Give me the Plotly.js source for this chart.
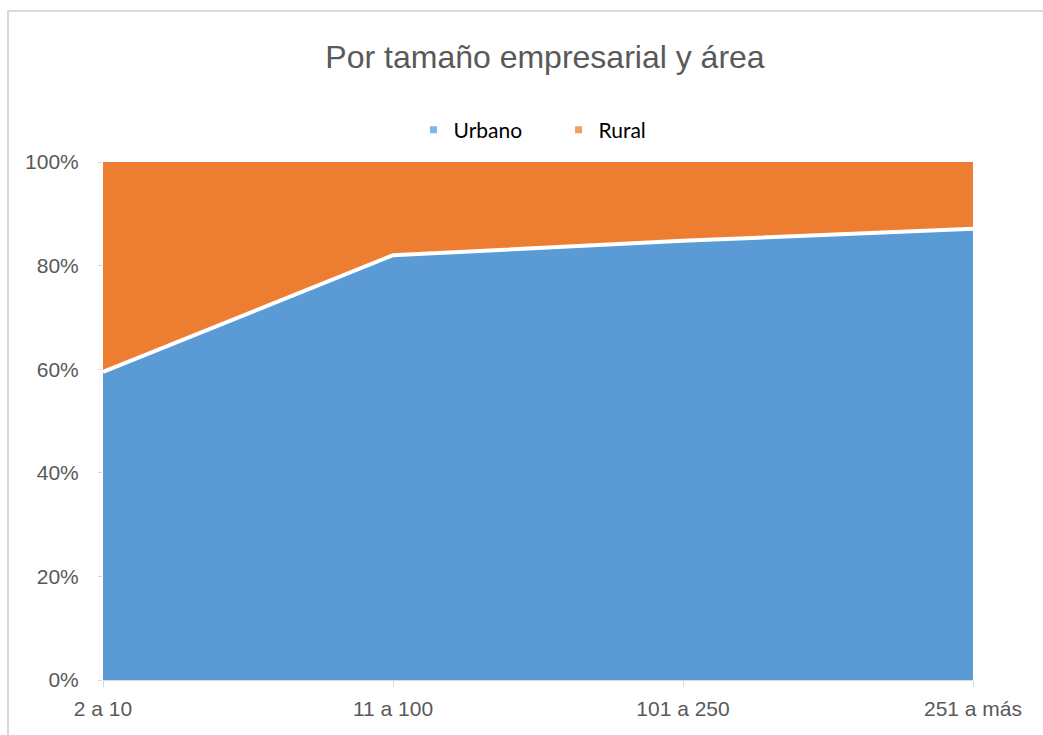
<!DOCTYPE html>
<html>
<head>
<meta charset="utf-8">
<script src="https://cdn.plot.ly/plotly-3.0.1.min.js"></script>
<style>
  html, body { margin: 0; padding: 0; background: #fff; }
  #frame { position: absolute; left: 7px; top: 10px; width: 1036px; height: 725px;
           border-left: 2px solid #d9d9d9; border-top: 2px solid #d9d9d9; box-sizing: border-box; }
  #chart { position: absolute; left: 0; top: 0; width: 1043px; height: 735px; }
</style>
</head>
<body>
<div id="frame"></div>
<div id="chart"></div>
<script>
const categories = ["2 a 10", "11 a 100", "101 a 250", "251 a más"];
const urbano = [59.5, 82.0, 84.8, 87.1];
const rural = [40.5, 18.0, 15.2, 12.9];
const seriesNames = ["Urbano", "Rural"];
const seriesColors = ["#5B9BD5", "#ED7D31"];

const traces = [
  {
    x: categories, y: urbano, name: seriesNames[0], type: "scatter", mode: "lines",
    stackgroup: "one", groupnorm: "percent", showlegend: false,
    fillcolor: seriesColors[0], line: { color: "#ffffff", width: 4 }
  },
  {
    x: categories, y: rural, name: seriesNames[1], type: "scatter", mode: "lines",
    stackgroup: "one", showlegend: false,
    fillcolor: seriesColors[1], line: { color: seriesColors[1], width: 0 }
  }
];
// legend-only entries with small square markers
seriesNames.forEach((n, i) => {
  traces.push({
    x: [null], y: [null], name: n, type: "scatter", mode: "markers",
    marker: { symbol: "square", size: 7, color: seriesColors[i], opacity: 0.75 },
    showlegend: true, hoverinfo: "skip"
  });
});

const tickFont = { family: "Liberation Sans Narrow, Liberation Sans, Arial, sans-serif", size: 21, color: "#595959" };

const layout = {
  width: 1043, height: 735,
  paper_bgcolor: "rgba(0,0,0,0)", plot_bgcolor: "rgba(0,0,0,0)",
  margin: { l: 103, r: 70, t: 162, b: 55 },
  title: {
    text: "Por tamaño empresarial y área",
    font: { family: "Liberation Sans, Arial, sans-serif", size: 32, color: "#595959" },
    x: 545 / 1043, xanchor: "center", y: 1 - 57 / 735, yref: "container", yanchor: "middle"
  },
  showlegend: true,
  legend: {
    orientation: "h", x: 0.5 + 37 / 1043, xanchor: "center", xref: "container",
    y: 1 - 130 / 735, yref: "container", yanchor: "middle",
    traceorder: "normal",
    font: { family: "Lato, Open Sans, sans-serif", size: 21, color: "#000000" },
    itemwidth: 30, entrywidth: 100, entrywidthmode: "pixels"
  },
  xaxis: {
    type: "category", range: [0, 3], showgrid: false, zeroline: false,
    showline: true, linecolor: "#d9d9d9", linewidth: 1,
    ticks: "outside", ticklen: 6, tickcolor: "#d9d9d9",
    tickfont: tickFont, ticklabelstandoff: 4, fixedrange: true
  },
  yaxis: {
    range: [0, 100], dtick: 20, ticksuffix: "%", showgrid: false, zeroline: false,
    showline: false, ticks: "outside", ticklen: 4, tickcolor: "#d9d9d9",
    tickfont: tickFont, ticklabelstandoff: 15, fixedrange: true
  }
};

Plotly.newPlot("chart", traces, layout, { displayModeBar: false, staticPlot: true });
</script>
</body>
</html>
